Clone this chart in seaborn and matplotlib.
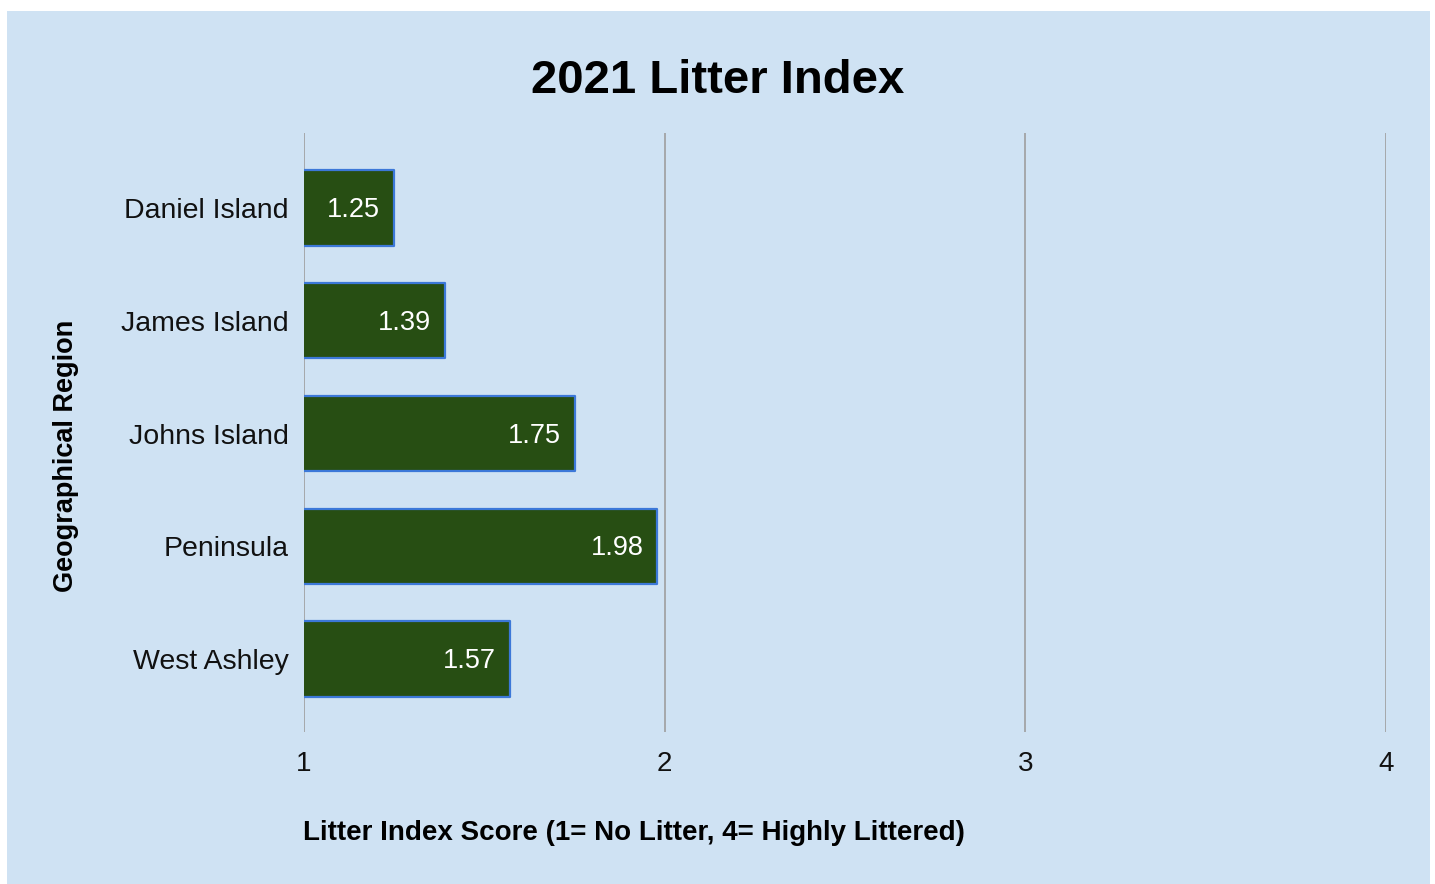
import matplotlib
matplotlib.use("Agg")
import matplotlib.pyplot as plt
import seaborn as sns
import pandas as pd
from matplotlib.patches import Rectangle

# chart data
regions = ["Daniel Island", "James Island", "Johns Island", "Peninsula", "West Ashley"]
scores = [1.25, 1.39, 1.75, 1.98, 1.57]

df = pd.DataFrame({"region": regions, "score": scores})

sns.set_theme(style="white")
plt.rcParams["font.family"] = ["Liberation Sans", "DejaVu Sans"]

bg = "#cfe2f3"
fig = plt.figure(figsize=(14.35, 8.84), dpi=100, facecolor="white")
# light blue panel with a thin white margin
fig.patches.append(Rectangle((7 / 1435, 0), 1423 / 1435, 873 / 884,
                             transform=fig.transFigure, facecolor=bg,
                             edgecolor="none", zorder=-10))

ax = fig.add_axes([304 / 1435, 1 - 732 / 884, 1082 / 1435, 599 / 884])
ax.set_facecolor(bg)
ax.patch.set_alpha(0)

sns.barplot(data=df, x="score", y="region", color="#274e13", width=0.667,
            edgecolor="#3c78d8", linewidth=1.6, saturation=1, ax=ax)
for p in ax.patches:
    p.set_joinstyle("round")

ax.set_xlim(1, 4)
ax.set_ylim(4.647, -0.665)
ax.set_xticks([1, 2, 3, 4])
ax.set_xticklabels(["1", "2", "3", "4"])
ax.grid(axis="x", color="#9e9e9e", linewidth=1.2)
ax.grid(axis="y", visible=False)
ax.set_axisbelow(True)
for s in ax.spines.values():
    s.set_visible(False)
ax.tick_params(axis="x", length=0, pad=14, labelsize=20, labelcolor="#111111")
ax.tick_params(axis="y", length=0, pad=11, labelsize=20.5, labelcolor="#111111")
ax.set_xlabel("")
ax.set_ylabel("")

# value labels inside the bars
for i, v in enumerate(scores):
    ax.annotate(f"{v:.2f}", xy=(v, i), xytext=(-14, -2), textcoords="offset pixels",
                ha="right", va="center", color="white", fontsize=19.5)

fig.text(0.5, 1 - 81 / 884, "2021 Litter Index", ha="center", va="center",
         fontsize=34, fontweight="bold", color="black")
fig.text(303 / 1435, 1 - 833 / 884, "Litter Index Score (1= No Litter, 4= Highly Littered)",
         ha="left", va="center", fontsize=20, fontweight="bold", color="black")
fig.text(66 / 1435, 1 - 456 / 884, "Geographical Region", ha="center", va="center",
         rotation=90, fontsize=19.5, fontweight="bold", color="black")

fig.savefig("out.png", dpi=100, facecolor="white")
